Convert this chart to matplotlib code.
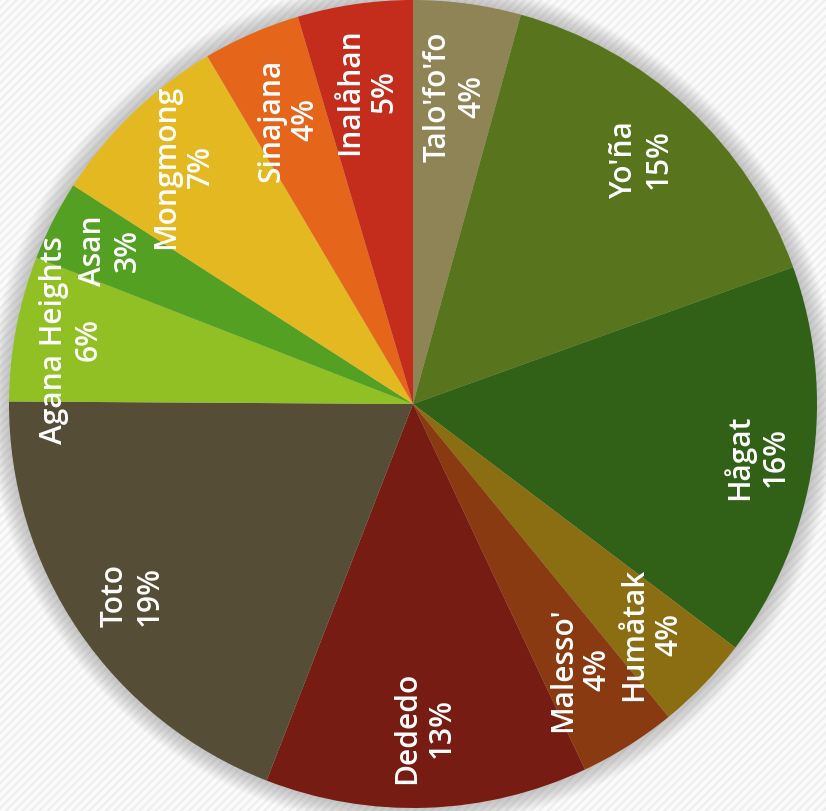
import matplotlib.pyplot as plt
import numpy as np
from matplotlib.patches import Rectangle, Circle

plt.rcParams['font.family'] = ['Open Sans', 'DejaVu Sans']
plt.rcParams['hatch.linewidth'] = 1.6

# villages, clockwise from 12 o'clock
villages = ["Talo'fo'fo", "Yo'ña", "Hågat", "Humåtak", "Malesso'", "Dededo",
            "Toto", "Agana Heights", "Asan", "Mongmong", "Sinajana", "Inalåhan"]
shares = [4.3, 15.2, 15.8, 3.8, 3.9, 12.9, 19.2, 5.8, 3.2, 7.4, 3.9, 4.6]
pct_labels = ["4%", "15%", "16%", "4%", "4%", "13%",
              "19%", "6%", "3%", "7%", "4%", "5%"]
colors = ['#8e8456', '#58741c', '#316017', '#8b6d12', '#8a3a10', '#761c12',
          '#554d35', '#91c025', '#54a023', '#e4b820', '#e5661b', '#c42d1b']
label_r = [0.77, 0.83, 0.86, 0.82, 0.775, 0.80, 0.84, 0.86, 0.84, 0.82, 0.77, 0.785]

fig = plt.figure(figsize=(8.26, 8.12), dpi=100)
ax = fig.add_axes([0, 0, 1, 1])

# striped background
ax.add_patch(Rectangle((-413, -407), 826, 812, facecolor='#fbfbfb',
                       edgecolor='#eeeeee', hatch='////', lw=0, zorder=0))

R = 404
# soft shadow round the pie
for i in range(20):
    ax.add_patch(Circle((0, 0), R + 20 - i, facecolor='#808080', alpha=0.022,
                        lw=0, zorder=1))

wedges, _ = ax.pie(shares, colors=colors, radius=R, startangle=90,
                   counterclock=False, center=(0, 0), frame=True,
                   wedgeprops=dict(lw=0, edgecolor='none', zorder=2))
ax.set_xlim(-413, 413)
ax.set_ylim(-407, 405)
ax.axis('off')

for w, name, pct, r in zip(wedges, villages, pct_labels, label_r):
    mid = np.deg2rad((w.theta1 + w.theta2) / 2)
    x, y = r * R * np.cos(mid), r * R * np.sin(mid)
    ax.text(x, y, name + '\n' + pct, rotation=90, ha='center', va='center',
            fontsize=21.5, fontweight='semibold', color='white',
            linespacing=1.2, multialignment='center', zorder=5)

fig.savefig('out.png', dpi=100)
